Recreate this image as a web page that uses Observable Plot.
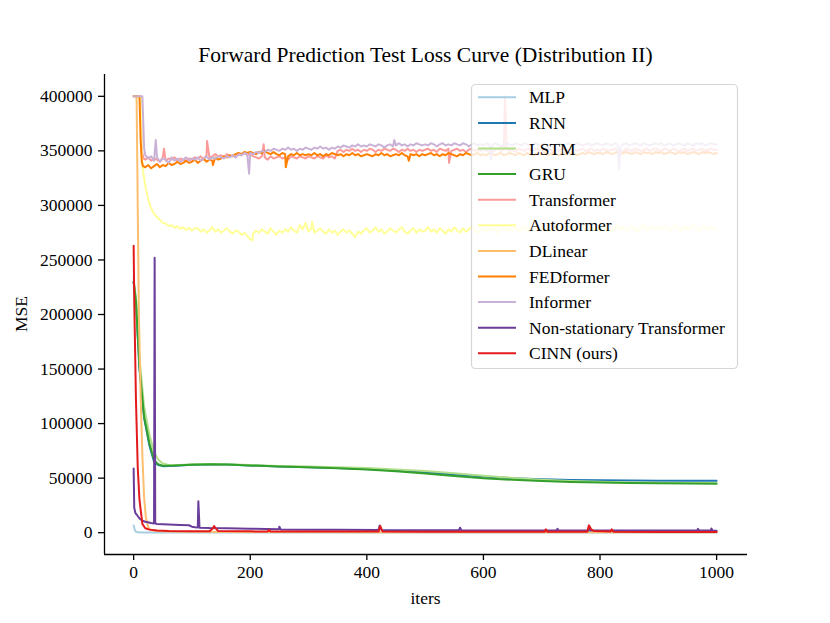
<!DOCTYPE html>
<html><head><meta charset="utf-8">
<script src="https://cdn.jsdelivr.net/npm/d3@7"></script>
<script src="https://cdn.jsdelivr.net/npm/@observablehq/plot@0.6"></script>
<style>
body{margin:0;background:#fff;}
#wrap{width:830px;height:623px;position:relative;font-family:'Liberation Serif','Times New Roman',serif;}
#title{height:66px;box-sizing:border-box;padding-top:45px;margin-left:104px;width:643px;text-align:center;font-size:21.5px;line-height:21.5px;color:#000;white-space:nowrap;}
#chart svg, #chart svg g, #chart svg text{font-family:'Liberation Serif','Times New Roman',serif !important;font-variant:normal !important;}
</style></head><body>
<div id="wrap"><div id="title">Forward Prediction Test Loss Curve (Distribution II)</div><div id="chart"></div></div>
<script>
// ---- labels, colours, ticks ----
const seriesNames = ["MLP","RNN","LSTM","GRU","Transformer","Autoformer","DLinear","FEDformer","Informer","Non-stationary Transformer","CINN (ours)"];
const seriesColors = ["#a6cee3","#1f78b4","#b2df8a","#33a02c","#fb9a99","#ffff99","#fdbf6f","#ff7f00","#cab2d6","#6a3d9a","#e31a1c"];
const xTicks = [0,200,400,600,800,1000];
const yTicks = [0,50000,100000,150000,200000,250000,300000,350000,400000];

// ---- smooth series: [iter, MSE] ----
const mlp = [[0,6500],[2,2500],[4,800],[7,300],[15,200],[50,150],[200,100],[500,80],[1000,60]];
const rnn = [[0,230000],[4,210000],[10,150000],[18,105000],[27,80000],[35,65000],[42,62000],[50,61000],[70,61300],[100,62200],[130,62600],[160,62400],[200,61600],[250,60700],[300,60000],[350,59300],[400,58300],[450,57000],[500,55300],[550,53300],[600,51500],[650,50000],[700,49000],[750,48400],[800,48000],[850,47800],[900,47700],[1000,47600]];
const lstm = [[0,232000],[4,215000],[10,160000],[18,115000],[27,90000],[35,74000],[42,67000],[50,63500],[60,62000],[80,62000],[100,62700],[130,63000],[160,62800],[200,62000],[250,61200],[300,60600],[350,60000],[400,59200],[450,58000],[500,56500],[550,54500],[600,52200],[650,50200],[700,48600],[750,47400],[800,46600],[850,46100],[900,45800],[950,45600],[1000,45500]];
const gru = [[0,230000],[4,212000],[10,152000],[18,106000],[27,82000],[35,66500],[42,62800],[50,61300],[70,61500],[100,62300],[130,62700],[160,62500],[200,61600],[250,60600],[300,59900],[350,59100],[400,58000],[450,56300],[500,54200],[550,52000],[600,50000],[650,48500],[700,47300],[750,46500],[800,46000],[850,45600],[900,45300],[950,45000],[1000,44800]];
const dlinear = [[0,400000],[5,400000],[7,300000],[9,200000],[12,125000],[15,70000],[18,32000],[21,14000],[25,5000],[30,2500],[40,1500],[60,1000],[100,800],[200,600],[400,400],[600,300],[800,300],[1000,300]];
const cinn = [[0,263000],[1,213000],[4,121000],[7,60000],[10,30000],[15,8000],[20,4000],[27,2800],[40,2000],[60,1600],[100,1300],[130,1200],[135,3500],[138,6000],[141,4000],[145,1500],[200,1200],[230,1100],[232,2500],[235,1100],[300,1000],[420,1000],[423,6000],[427,1000],[500,900],[600,800],[705,800],[707,3000],[710,800],[778,900],[781,6700],[785,3000],[790,1500],[818,1000],[820,3000],[823,900],[900,700],[1000,700]];
const nonstat = [[0,58800],[1,23000],[3,18000],[6,16000],[10,13000],[15,11000],[20,10000],[30,8800],[35,8500],[36,252000],[37,8500],[40,8000],[60,7500],[80,7000],[95,6800],[100,5500],[105,5000],[110,4800],[111,28700],[113,4600],[130,4200],[160,4000],[200,3600],[249,3200],[250,5500],[252,3000],[300,2800],[350,2700],[420,2500],[422,6500],[425,2500],[500,2300],[558,2200],[560,4500],[562,2200],[650,2100],[725,2000],[727,3500],[729,2000],[781,2000],[782,4000],[784,2000],[900,1900],[967,1900],[968,3500],[970,1900],[990,1900],[991,3800],[993,1900],[1000,1800]];

// ---- noisy series: head [iter,MSE], tail values (thousands) every 5 iters, spikes [iter,MSE] ----
const transformerHead = [[0,400000],[12,400000],[14,350000],[17,343000]];
const transformerTailStart = 20;
const transformerTailK = [
 342,344,341,343,342,340,344,341,343,342,344,341,343,342,341,343,
 342,344,343,345,342,346,344,345,347,345,346,344,347,345,346,344,347,346,348,346,
 347,345,344,343,345,344,342,345,343,344,345,343,344,342,345,344,343,345,344,343,
 345,344,343,345,344,343,346,344,345,343,350,351,349,351,350,352,350,351,349,351,
 350,352,351,349,351,350,352,351,350,352,351,349,351,350,352,350,351,349,351,350,
 351,352,350,351,349,352,351,350,352,350,351,352,350,351,349,351,352,350,351,350,
 352,350,351,349,351,352,350,351,352,350,351,349,352,351,350,352,351,350,352,351,
 351,350,352,351,349,351,350,352,351,350,352,351,350,351,352,350,351,352,350,351,
 350,352,351,350,351,352,350,351,349,352,351,350,352,351,350,351,352,350,351,352,
 351,350,352,351,350,352,351,349,351,352,350,351,352,350,351,352,350,351,352,351,351];
const transformerSpikes = [[52,352000],[126,359000],[223,356000],[541,339000],[637,400000]];

const autoformerHead = [[0,400000],[12,400000],[14,345000],[16,332000],[20,318000],[24,308000],[28,300000],[33,294000],[40,289000],[45,287000],[50,284000],[55,283500],[60,281000],[65,282000],[70,279500],[75,281000],[80,278500],[85,280000],[90,277500],[95,279500],[100,277000],[105,279000]];
const autoformerTailStart = 110;
const autoformerTailK = [
 279,276,278,275,277,280,276,278,275,277,279,276,274,277,276,273,275,272,
 269,274,277,275,278,276,274,279,276,273,277,275,278,276,280,277,275,282,278,284,
 276,279,275,277,279,276,274,278,275,277,273,276,278,275,277,274,271,276,274,277,
 279,275,277,280,276,278,274,276,279,277,275,278,280,276,274,277,279,275,278,276,
 277,280,276,278,275,279,277,274,278,276,280,277,275,279,276,278,281,277,275,278,
 278,276,280,277,279,275,278,281,276,279,277,280,276,278,281,277,279,276,280,278,
 280,277,279,276,281,278,280,277,279,282,278,276,280,278,281,277,279,280,277,279,
 277,281,278,280,276,279,282,278,280,277,279,281,278,276,280,282,278,279,281,278,
 280,278,281,279,277,280,282,279,277,281,278,280,282,279,277,280,281,278,280,279,278];
const autoformerSpikes = [[204,268000],[306,285000]];

const fedformerHead = [[0,400000],[10,400000],[12,360000],[14,340000],[16,336000]];
const fedformerTailStart = 20;
const fedformerTailK = [
 335,337,334,336,338,335,337,336,339,337,338,340,338,339,341,339,
 340,342,339,341,343,340,342,341,344,342,343,345,344,346,345,347,348,347,349,348,
 349,348,347,349,348,350,348,347,349,347,346,348,347,345,347,346,348,346,347,346,
 347,346,348,346,347,345,347,346,348,347,346,347,345,347,346,348,346,347,345,346,
 347,346,345,347,346,348,346,347,345,346,347,346,348,346,345,347,346,347,345,347,
 346,347,348,346,347,345,347,346,348,347,346,345,347,346,348,347,346,347,348,346,
 347,346,348,347,346,347,348,346,347,348,347,346,348,347,346,348,347,346,347,348,
 347,348,346,347,348,347,346,348,347,349,347,348,346,347,348,347,349,348,347,348,
 348,347,349,348,347,348,349,347,348,349,348,347,349,348,347,349,348,348,347,349,
 348,349,347,348,349,348,347,349,348,349,347,348,349,348,347,349,348,349,348,347,348];
const fedformerSpikes = [[136,337000],[261,335000],[472,341000]];

const informerHead = [[0,400000],[15,400000],[18,352000]];
const informerTailStart = 20;
const informerTailK = [
 346,343,345,341,344,340,343,342,339,344,341,343,340,342,344,341,
 343,342,344,341,343,345,342,344,343,345,344,343,345,344,346,344,347,346,348,347,
 348,347,349,348,350,349,351,350,352,351,350,352,351,353,351,352,350,352,351,353,
 352,351,353,352,354,352,353,351,353,352,354,353,355,354,353,355,354,356,354,355,
 354,356,355,354,356,355,353,355,356,354,355,357,355,356,354,356,355,357,356,355,
 356,355,357,356,354,356,357,355,356,355,357,356,355,357,356,354,356,357,355,356,
 355,357,356,355,357,356,354,356,357,356,355,357,356,355,357,356,355,356,357,355,
 356,357,355,356,354,356,357,356,355,357,356,355,357,356,355,356,357,355,356,357,
 356,355,357,356,355,357,356,354,356,357,355,356,357,356,355,357,356,355,356,357,
 356,357,355,356,357,355,356,357,356,355,357,356,355,357,356,357,355,356,357,356,356];
const informerSpikes = [[38,360000],[198,329000],[447,360000],[613,342000],[833,333000]];

function noisy(head, start, tailK, spikes) {
  const tail = tailK.map((v, i) => [start + 5 * i, v * 1000]);
  return head.concat(tail, spikes).sort((a, b) => a[0] - b[0]);
}
const seriesData = [
  mlp, rnn, lstm, gru,
  noisy(transformerHead, transformerTailStart, transformerTailK, transformerSpikes),
  noisy(autoformerHead, autoformerTailStart, autoformerTailK, autoformerSpikes),
  dlinear,
  noisy(fedformerHead, fedformerTailStart, fedformerTailK, fedformerSpikes),
  noisy(informerHead, informerTailStart, informerTailK, informerSpikes),
  nonstat, cinn
];

const W = 830, H = 557, ML = 104, MR = 83, MT = 8, MB = 69;
const FONT = "'Liberation Serif','Times New Roman',serif";

const marks = seriesData.map((d, i) =>
  Plot.line(d, {x: p => p[0], y: p => p[1], stroke: seriesColors[i], strokeWidth: 2, strokeLinejoin: "round"}));
marks.push(Plot.ruleX([-50], {stroke: "#000", strokeWidth: 1.3}));
marks.push(Plot.ruleY([-20000], {stroke: "#000", strokeWidth: 1.3}));
marks.push(Plot.axisX({ticks: xTicks, tickFormat: "d", tickSize: 6, tickPadding: 5, label: null, strokeWidth: 1.3, fontFamily: FONT, fontSize: 17.5}));
marks.push(Plot.axisY({ticks: yTicks, tickFormat: "d", tickSize: 6, tickPadding: 6, label: null, strokeWidth: 1.3, fontFamily: FONT, fontSize: 17.5}));

const plot = Plot.plot({
  width: W, height: H,
  marginLeft: ML, marginRight: MR, marginTop: MT, marginBottom: MB,
  x: {domain: [-50, 1053]},
  y: {domain: [-20000, 420000]},
  style: {fontFamily: FONT, fontSize: "17.5px", color: "#000", background: "white", overflow: "visible"},
  marks
});
document.getElementById("chart").appendChild(plot);

const svg = d3.select(plot);
svg.selectAll("g").attr("font-family", FONT).attr("font-variant", null);
svg.selectAll("text").attr("font-family", FONT).style("font-family", FONT);

// axis titles
svg.append("text").attr("transform", "translate(21,248) rotate(-90)")
  .attr("text-anchor", "middle").attr("dy", "0.35em")
  .style("font-family", FONT).style("font-size", "17.5px").text("MSE");
svg.append("text").attr("x", 425.5).attr("y", 532)
  .attr("text-anchor", "middle").attr("dy", "0.35em")
  .style("font-family", FONT).style("font-size", "17.5px").text("iters");

// legend (matplotlib-style, semi-transparent frame)
const lg = svg.append("g");
lg.append("rect").attr("x", 471.5).attr("y", 18.5).attr("width", 266).attr("height", 284).attr("rx", 4)
  .attr("fill", "white").attr("fill-opacity", 0.8).attr("stroke", "#cccccc").attr("stroke-opacity", 0.8).attr("stroke-width", 1.2);
seriesNames.forEach((n, i) => {
  const y = 31.3 + i * 25.6;
  lg.append("line").attr("x1", 478).attr("x2", 516).attr("y1", y).attr("y2", y)
    .attr("stroke", seriesColors[i]).attr("stroke-width", 2);
  lg.append("text").attr("x", 529).attr("y", y).attr("dy", "0.35em").attr("text-anchor", "start")
    .style("font-family", FONT).style("font-size", "17.5px").text(n);
});
</script>
</body></html>
